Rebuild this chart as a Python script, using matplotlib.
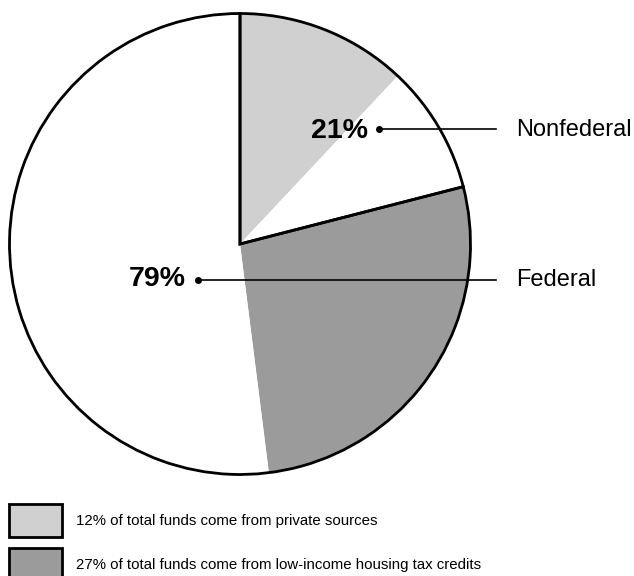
import matplotlib.pyplot as plt
from matplotlib.patches import Rectangle

plt.rcParams['font.family'] = ['Liberation Sans', 'DejaVu Sans']

# shares of total funds, clockwise from 12 o'clock
sub_labels = ['Private sources', 'Other nonfederal', 'Housing tax credits', 'Other federal']
sub_values = [12, 9, 27, 52]
sub_colors = ['#d0d0d0', 'white', '#9b9b9b', 'white']

group_labels = ['Nonfederal', 'Federal']
group_values = [21, 79]

legend_texts = ['12% of total funds come from private sources',
                '27% of total funds come from low-income housing tax credits']
legend_colors = ['#d0d0d0', '#9b9b9b']

W, H = 634, 576
fig = plt.figure(figsize=(W / 100, H / 100), dpi=100)
ax = fig.add_axes([0, 0, 1, 1])

cx, cy, r = 240, H - 244, 230.5

ax.pie(sub_values, colors=sub_colors, startangle=90, counterclock=False,
       center=(cx, cy), radius=r, frame=True,
       wedgeprops=dict(linewidth=0))
ax.pie(group_values, colors=['none', 'none'], startangle=90, counterclock=False,
       center=(cx, cy), radius=r, frame=True,
       wedgeprops=dict(linewidth=2.0, edgecolor='black', facecolor='none'))

# callouts
ax.text(368, H - 131, f'{group_values[0]}%', fontsize=20.5, fontweight='bold',
        ha='right', va='center')
ax.plot([379, 496], [H - 129, H - 129], color='black', lw=1.2)
ax.plot(379, H - 129, 'o', color='black', ms=4)
ax.text(516, H - 130, group_labels[0], fontsize=17, ha='left', va='center')

ax.text(186, H - 279, f'{group_values[1]}%', fontsize=20.5, fontweight='bold',
        ha='right', va='center')
ax.plot([198, 496], [H - 280, H - 280], color='black', lw=1.2)
ax.plot(198, H - 280, 'o', color='black', ms=4)
ax.text(516, H - 280, group_labels[1], fontsize=17, ha='left', va='center')

# legend boxes
for i, (txt, col) in enumerate(zip(legend_texts, legend_colors)):
    top = 504 + i * 44
    ax.add_patch(Rectangle((8.5, H - top - 33), 53, 33, facecolor=col,
                           edgecolor='black', lw=2.0))
    ax.text(76, H - top - 17, txt, fontsize=10.8, ha='left', va='center')

ax.set_xlim(0, W)
ax.set_ylim(0, H)
ax.set_aspect('equal')
ax.axis('off')

fig.savefig('out.png', dpi=100)
